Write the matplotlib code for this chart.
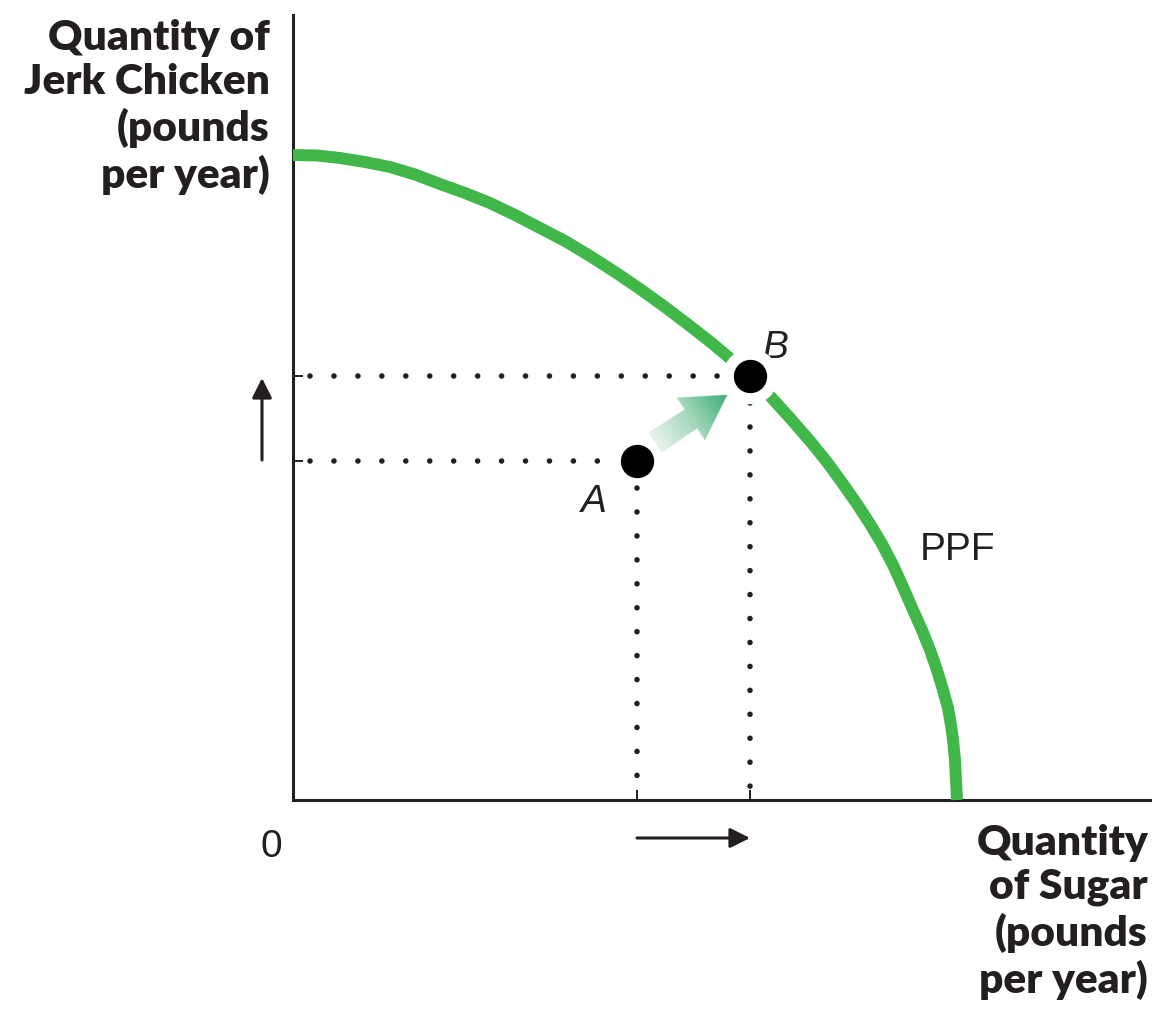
import numpy as np
import matplotlib
matplotlib.use("Agg")
import matplotlib.pyplot as plt
from matplotlib.patches import FancyArrow
from matplotlib.colors import LinearSegmentedColormap

# PPF curve (sugar, jerk chicken)
ppf_x = [0, 2.4, 4.7, 7.2, 9.7, 12.2, 14.7, 17.2, 19.7, 22.2, 24.7, 27.2,
         29.7, 32.2, 34.7, 37.2, 39.7, 42.0, 44.0, 45.7, 47.7, 49.7,
         51.7, 53.4, 55.0, 56.4, 57.7, 58.9, 60.0, 61.0, 62.0, 62.9,
         63.7, 64.4, 65.0, 65.5, 65.8, 66.0, 66.2, 66.4]
ppf_y = [64.5, 64.45, 64.2, 63.8, 63.3, 62.55, 61.6, 60.7, 59.7, 58.5, 57.2, 55.9,
         54.4, 52.8, 51.1, 49.3, 47.4, 45.6, 43.9, 42.4, 40.4, 38.2,
         35.9, 33.8, 31.6, 29.6, 27.6, 25.6, 23.5, 21.3, 19.0, 17.0,
         15.0, 13.0, 11.0, 9.2, 7.5, 6.0, 4.0, 0]

# points A (inside) and B (on the frontier)
pt_names = ["A", "B"]
pt_x = [34.4, 45.7]
pt_y = [33.9, 42.4]

x_max, y_max = 85.7, 78.5
green = "#41b649"
ink = "#231f20"

fig = plt.figure(figsize=(11.66, 10.17), dpi=100)
W, H = 1166, 1017
ax = fig.add_axes([293 / W, (H - 800) / H, (1150 - 293) / W, (800 - 15) / H])
ax.set_xlim(0, x_max)
ax.set_ylim(0, y_max)
for s in ["top", "right"]:
    ax.spines[s].set_visible(False)
for s in ["left", "bottom"]:
    ax.spines[s].set_linewidth(2.2)
    ax.spines[s].set_color(ink)
ax.set_xticks(pt_x)
ax.set_yticks(pt_y)
ax.tick_params(direction="in", length=7, width=1.4, color=ink,
               labelbottom=False, labelleft=False)

# dotted guides
dot = dict(color=ink, lw=4.0, linestyle=(0, (0.01, 4.3)), dash_capstyle="round")
for x, y in zip(pt_x, pt_y):
    ax.plot([1.7, x - 2.7], [y, y], **dot)
    ax.plot([x, x], [y - 2.7, 0.8], **dot)

# frontier
ax.plot(ppf_x, ppf_y, color=green, lw=8.6, solid_capstyle="butt",
        solid_joinstyle="round", clip_on=False, zorder=3)

# white gap around B, then the points
ax.plot(pt_x[1], pt_y[1], "o", color="white", ms=39, zorder=4)
ax.plot(pt_x, pt_y, "o", color="black", ms=23, zorder=5)

# gradient arrow from A to B
tx, ty, dx, dy = 36.3, 35.8, 7.1, 4.7
arr = FancyArrow(tx, ty, dx, dy, width=2.2, head_width=5.0, head_length=4.3,
                 length_includes_head=True, facecolor="none",
                 edgecolor="#cfe9da", lw=1.0, zorder=4)
ax.add_patch(arr)
v = arr.get_xy()
x0, x1, y0, y1 = v[:, 0].min(), v[:, 0].max(), v[:, 1].min(), v[:, 1].max()
gx, gy = np.meshgrid(np.linspace(x0, x1, 120), np.linspace(y0, y1, 120))
t = ((gx - tx) * dx + (gy - ty) * dy) / (dx * dx + dy * dy)
cmap = LinearSegmentedColormap.from_list("g", ["#e6f3ea", "#a2d6b8", "#36ac76"])
im = ax.imshow(t, extent=(x0, x1, y0, y1), origin="lower", cmap=cmap,
               vmin=0, vmax=1, aspect="auto", zorder=4)
im.set_clip_path(arr)
ax.set_xlim(0, x_max)
ax.set_ylim(0, y_max)

# little direction arrows on the axes
ak = dict(arrowstyle="-|>,head_length=0.6,head_width=0.3", color=ink, lw=2.2,
          mutation_scale=20, shrinkA=0, shrinkB=0)
ax.annotate("", xy=(-3.1, 42.2), xytext=(-3.1, 34.0), arrowprops=ak,
            annotation_clip=False)
ax.annotate("", xy=(45.7, -3.8), xytext=(34.4, -3.8), arrowprops=ak,
            annotation_clip=False)

# labels
bold = dict(family=["Lato", "DejaVu Sans"], fontweight="heavy", fontsize=30.5,
            color=ink, ha="right", va="baseline", multialignment="right",
            linespacing=1.2, clip_on=False)
ax.text(-2.3, 61.2, "Quantity of\nJerk Chicken\n(pounds\nper year)", **bold)
ax.text(85.5, -19.3, "Quantity\nof Sugar\n(pounds\nper year)", **bold)

reg = dict(family=["Liberation Sans", "DejaVu Sans"], fontsize=28, color=ink,
           va="baseline", clip_on=False)
ax.text(-2.2, -5.7, "0", ha="center", **reg)
ax.text(30.1, 28.8, "A", ha="center", style="italic", **reg)
ax.text(48.3, 44.2, "B", ha="center", style="italic", **reg)
ax.text(62.7, 24.0, "PPF", ha="left", **reg)

fig.savefig("out.png", dpi=100)
